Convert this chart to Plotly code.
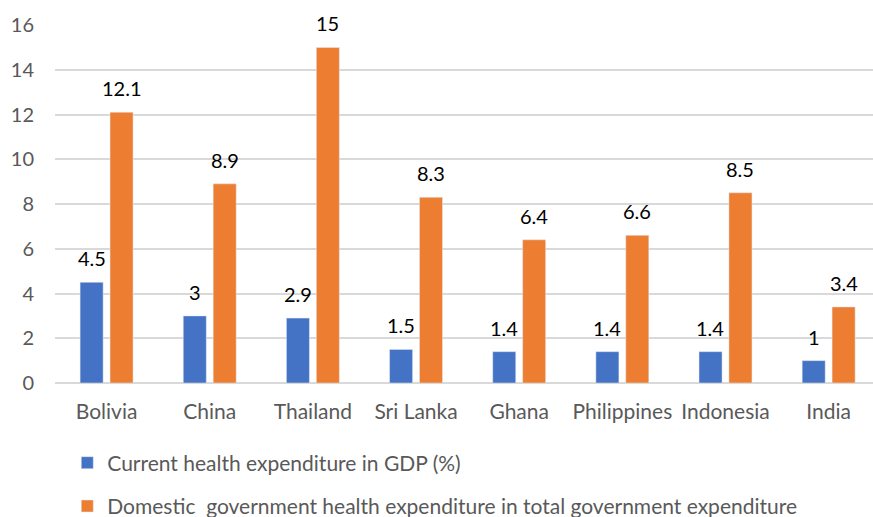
import plotly.graph_objects as go

countries = ["Bolivia", "China", "Thailand", "Sri Lanka", "Ghana", "Philippines", "Indonesia", "India"]
che_gdp = [4.5, 3, 2.9, 1.5, 1.4, 1.4, 1.4, 1]
gghe = [12.1, 8.9, 15, 8.3, 6.4, 6.6, 8.5, 3.4]
y_ticks = [0, 2, 4, 6, 8, 10, 12, 14, 16]

name1 = "Current health expenditure in GDP (%)"
name2 = "Domestic  government health expenditure in total government expenditure"

BLUE = "#4472C4"
ORANGE = "#ED7D31"
GRAY = "#595959"
FONT = "Lato, 'Open Sans', sans-serif"

fig = go.Figure()
fig.add_trace(go.Bar(x=countries, y=che_gdp, name=name1, marker_color=BLUE,
                     legendgroup="a"))
fig.add_trace(go.Bar(x=countries, y=gghe, name=name2, marker_color=ORANGE,
                     legendgroup="b"))

annotations = []
for i, c in enumerate(countries):
    for vals, dx in ((che_gdp, -15), (gghe, 15)):
        v = vals[i]
        annotations.append(dict(
            x=c, y=v, xref="x", yref="y", text=f"{v:g}", showarrow=False,
            xshift=dx, yshift=24, yanchor="middle",
            font=dict(family=FONT, size=20, color="#000000")))

fig.update_layout(
    width=873, height=517,
    margin=dict(l=55, r=0, t=25, b=134),
    paper_bgcolor="white", plot_bgcolor="white",
    font=dict(family=FONT, color=GRAY, size=20),
    barmode="group", bargap=0.42, bargroupgap=0.23,
    annotations=annotations,
    showlegend=True,
    legend=dict(orientation="v", x=0.015, xanchor="left",
                yref="container", y=0.144, yanchor="top",
                traceorder="grouped", tracegroupgap=13, itemwidth=30,
                font=dict(family=FONT, size=21, color=GRAY),
                bgcolor="rgba(0,0,0,0)"),
)
fig.update_xaxes(range=[-0.5, 7.43], showgrid=False, showline=False, ticks="",
                 tickfont=dict(family=FONT, size=21, color=GRAY), ticklabelstandoff=14)
fig.update_yaxes(range=[0, 16], tickvals=y_ticks, gridcolor="#D9D9D9", gridwidth=1.5,
                 zeroline=True, zerolinecolor="#D9D9D9", zerolinewidth=1.5,
                 showline=False, ticks="",
                 tickfont=dict(family=FONT, size=20, color=GRAY), ticklabelstandoff=20)

fig.write_html("out.html")
